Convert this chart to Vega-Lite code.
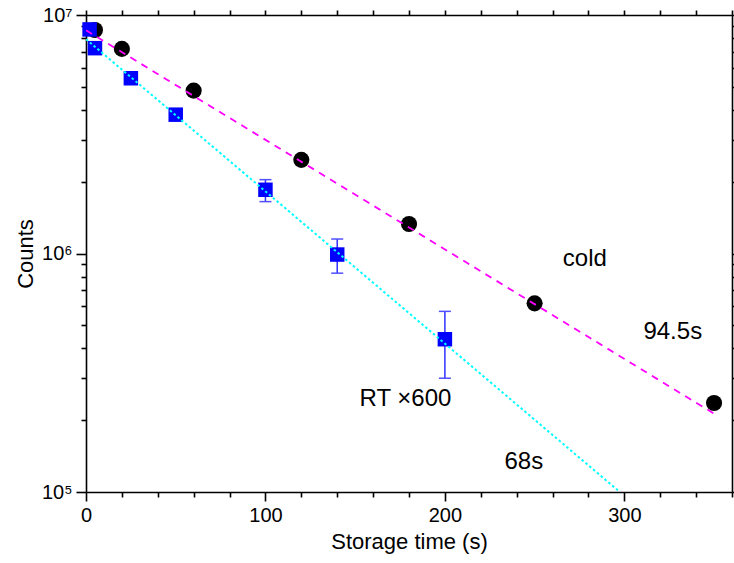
{
  "$schema": "https://vega.github.io/schema/vega-lite/v6.json",
  "width": 646,
  "height": 477,
  "autosize": {"type": "none"},
  "padding": {"left": 86, "top": 15, "right": 2, "bottom": 71},
  "background": "white",
  "config": {
    "view": {"stroke": null},
    "font": "Liberation Sans",
    "axis": {
      "domainColor": "black",
      "domainWidth": 1.6,
      "tickColor": "black",
      "tickWidth": 1.6,
      "labelFont": "Liberation Sans",
      "labelFontSize": 20,
      "labelColor": "black",
      "titleFont": "Liberation Sans",
      "titleFontSize": 22,
      "titleFontWeight": "normal",
      "titleColor": "black",
      "grid": false
    }
  },
  "datasets": {
    "cold": [
      {"t": 5, "counts": 8650000},
      {"t": 20, "counts": 7210000},
      {"t": 60, "counts": 4820000},
      {"t": 120, "counts": 2470000},
      {"t": 180, "counts": 1330000},
      {"t": 250, "counts": 618000},
      {"t": 350, "counts": 236000}
    ],
    "rt": [
      {"t": 2, "counts": 8700000},
      {"t": 5, "counts": 7260000},
      {"t": 25, "counts": 5430000},
      {"t": 50, "counts": 3820000},
      {"t": 100, "counts": 1850000, "lo": 1650000, "hi": 2040000},
      {"t": 140, "counts": 990000, "lo": 827000, "hi": 1150000},
      {"t": 200, "counts": 437000, "lo": 300000, "hi": 572000}
    ],
    "fits": [
      {"series": "cold", "t": 0, "counts": 8630000},
      {"series": "cold", "t": 350, "counts": 213000},
      {"series": "rt", "t": 0, "counts": 7920000},
      {"series": "rt", "t": 297.5, "counts": 100000}
    ],
    "labels": [
      {"text": "cold", "t": 278, "counts": 944000},
      {"text": "94.5s", "t": 327, "counts": 469000},
      {"text": "RT ×600", "t": 178, "counts": 245000},
      {"text": "68s", "t": 244, "counts": 133000}
    ]
  },
  "layer": [
    {
      "layer": [
        {
          "data": {"name": "cold"},
          "mark": {"type": "circle", "size": 260, "color": "black", "opacity": 1},
          "encoding": {
            "x": {
              "field": "t", "type": "quantitative",
              "scale": {"domain": [0, 360], "nice": false, "zero": false},
              "axis": {
                "orient": "bottom",
                "title": "Storage time (s)",
                "values": [0, 100, 200, 300],
                "tickSize": 9,
                "labelOverlap": false,
                "labelPadding": 4,
                "titlePadding": 6,
                "labelFlush": false
              }
            },
            "y": {
              "field": "counts", "type": "quantitative",
              "scale": {"type": "log", "domain": [100000, 10000000], "nice": false},
              "axis": {
                "orient": "left",
                "title": "Counts",
                "values": [100000, 1000000, 10000000],
                "labelExpr": "datum.value == 100000 ? '10⁵' : datum.value == 1000000 ? '10⁶' : '10⁷'",
                "tickSize": 10,
                "labelOverlap": false,
                "labelPadding": 4,
                "titlePadding": 4,
                "labelFlush": false
              }
            }
          }
        },
        {
          "data": {"name": "rt"},
          "transform": [{"filter": "isValid(datum.lo)"}],
          "mark": {"type": "rule", "color": "#3030ff", "strokeWidth": 1.5},
          "encoding": {
            "x": {"field": "t", "type": "quantitative"},
            "y": {"field": "lo", "type": "quantitative"},
            "y2": {"field": "hi"}
          }
        },
        {
          "data": {"name": "rt"},
          "transform": [{"filter": "isValid(datum.lo)"}],
          "mark": {"type": "tick", "orient": "horizontal", "color": "#5050ff", "size": 12, "thickness": 1.5, "opacity": 1},
          "encoding": {
            "x": {"field": "t", "type": "quantitative"},
            "y": {"field": "lo", "type": "quantitative"}
          }
        },
        {
          "data": {"name": "rt"},
          "transform": [{"filter": "isValid(datum.hi)"}],
          "mark": {"type": "tick", "orient": "horizontal", "color": "#5050ff", "size": 12, "thickness": 1.5, "opacity": 1},
          "encoding": {
            "x": {"field": "t", "type": "quantitative"},
            "y": {"field": "hi", "type": "quantitative"}
          }
        },
        {
          "data": {"name": "rt"},
          "mark": {"type": "square", "size": 210, "color": "#0000ff", "opacity": 1},
          "encoding": {
            "x": {"field": "t", "type": "quantitative"},
            "y": {"field": "counts", "type": "quantitative"}
          }
        },
        {
          "data": {"name": "labels"},
          "mark": {"type": "text", "font": "Liberation Sans", "fontSize": 24, "color": "black", "align": "center", "baseline": "middle"},
          "encoding": {
            "x": {"field": "t", "type": "quantitative"},
            "y": {"field": "counts", "type": "quantitative"},
            "text": {"field": "text"}
          }
        }
      ]
    },
    {
      "data": {"name": "fits"},
      "transform": [{"filter": "datum.series == 'rt'"}],
      "mark": {"type": "line", "color": "#00ffff", "strokeWidth": 2, "strokeDash": [2.5, 2.5], "clip": true},
      "encoding": {
        "x": {
          "field": "t", "type": "quantitative",
          "axis": {
            "orient": "bottom", "labels": false, "title": null, "tickSize": 5, "domain": false,
            "values": [20,40,60,80,120,140,160,180,220,240,260,280,320,340,360]
          }
        },
        "y": {
          "field": "counts", "type": "quantitative",
          "axis": {
            "orient": "left", "labels": false, "title": null, "tickSize": 5, "domain": false,
            "values": [200000,300000,400000,500000,600000,700000,800000,900000,2000000,3000000,4000000,5000000,6000000,7000000,8000000,9000000]
          }
        }
      }
    },
    {
      "data": {"name": "fits"},
      "transform": [{"filter": "datum.series == 'cold'"}],
      "mark": {"type": "line", "color": "#ff00ff", "strokeWidth": 1.8, "strokeDash": [7, 6], "clip": true},
      "encoding": {
        "x": {
          "field": "t", "type": "quantitative",
          "axis": {
            "orient": "top", "labels": false, "title": null, "tickSize": 5,
            "values": [0,20,40,60,80,100,120,140,160,180,200,220,240,260,280,300,320,340,360]
          }
        },
        "y": {
          "field": "counts", "type": "quantitative",
          "axis": {
            "orient": "right", "labels": false, "title": null, "tickSize": 5,
            "values": [100000,200000,300000,400000,500000,600000,700000,800000,900000,1000000,2000000,3000000,4000000,5000000,6000000,7000000,8000000,9000000,10000000]
          }
        }
      }
    }
  ],
  "resolve": {"axis": {"x": "independent", "y": "independent"}}
}
